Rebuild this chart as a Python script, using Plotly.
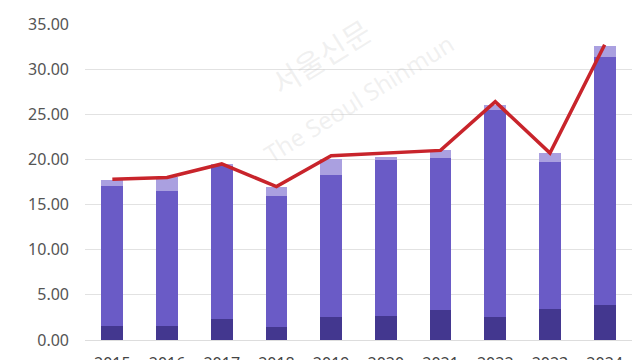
import plotly.graph_objects as go

years = ["2015", "2016", "2017", "2018", "2019", "2020", "2021", "2022", "2023", "2024"]
bottom = [1.5, 1.55, 2.35, 1.45, 2.5, 2.65, 3.3, 2.5, 3.4, 3.85]
middle = [15.6, 14.95, 17.0, 14.55, 15.8, 17.25, 16.9, 23.0, 16.35, 27.45]
top = [0.6, 1.5, 0.15, 1.0, 1.7, 0.4, 0.8, 0.5, 0.95, 1.3]
line_total = [17.8, 18.0, 19.5, 17.0, 20.4, 20.7, 21.0, 26.4, 20.7, 32.7]
y_ticks = [0, 5, 10, 15, 20, 25, 30, 35]
y_tick_text = ["0.00", "5.00", "10.00", "15.00", "20.00", "25.00", "30.00", "35.00"]

fig = go.Figure()
fig.add_trace(go.Bar(x=years, y=bottom, marker=dict(color="#43378f", line=dict(width=0))))
fig.add_trace(go.Bar(x=years, y=middle, marker=dict(color="#6a5bc6", line=dict(width=0))))
fig.add_trace(go.Bar(x=years, y=top, marker=dict(color="#aaa0e0", line=dict(width=0))))
fig.add_trace(go.Scatter(x=years, y=line_total, mode="lines",
                         line=dict(color="#c8242b", width=3.5)))

# faint watermark
fig.add_annotation(text="서울신문", x=0.43, y=1.06, xref="paper", yref="paper",
                   showarrow=False, textangle=-32,
                   font=dict(size=30, color="rgba(190,190,190,0.22)", family="Noto Sans CJK KR"))
fig.add_annotation(text="The Seoul Shinmun", x=0.5, y=1.0, xref="paper", yref="paper",
                   showarrow=False, textangle=-32,
                   font=dict(size=24, color="rgba(190,190,190,0.22)", family="Noto Sans"))

fig.update_layout(
    width=640, height=360,
    margin=dict(l=77, r=16, t=16, b=28, autoexpand=False),
    barmode="stack",
    bargap=0.6,
    showlegend=False,
    plot_bgcolor="white",
    paper_bgcolor="white",
    font=dict(family="Noto Sans", color="#555555", size=16),
)
fig.update_xaxes(type="category", showgrid=False, showline=False, ticks="",
                 automargin=False,
                 tickfont=dict(size=16, color="#444444"), ticklabelstandoff=12)
fig.update_yaxes(range=[0, 35], tickvals=y_ticks, ticktext=y_tick_text,
                 automargin=False,
                 showgrid=True, gridcolor="#e2e2e2", gridwidth=1,
                 zeroline=True, zerolinecolor="#dddddd", zerolinewidth=1,
                 showline=False, ticks="", ticklabelstandoff=15,
                 tickfont=dict(size=16, color="#555555"))

fig.write_html("out.html")
